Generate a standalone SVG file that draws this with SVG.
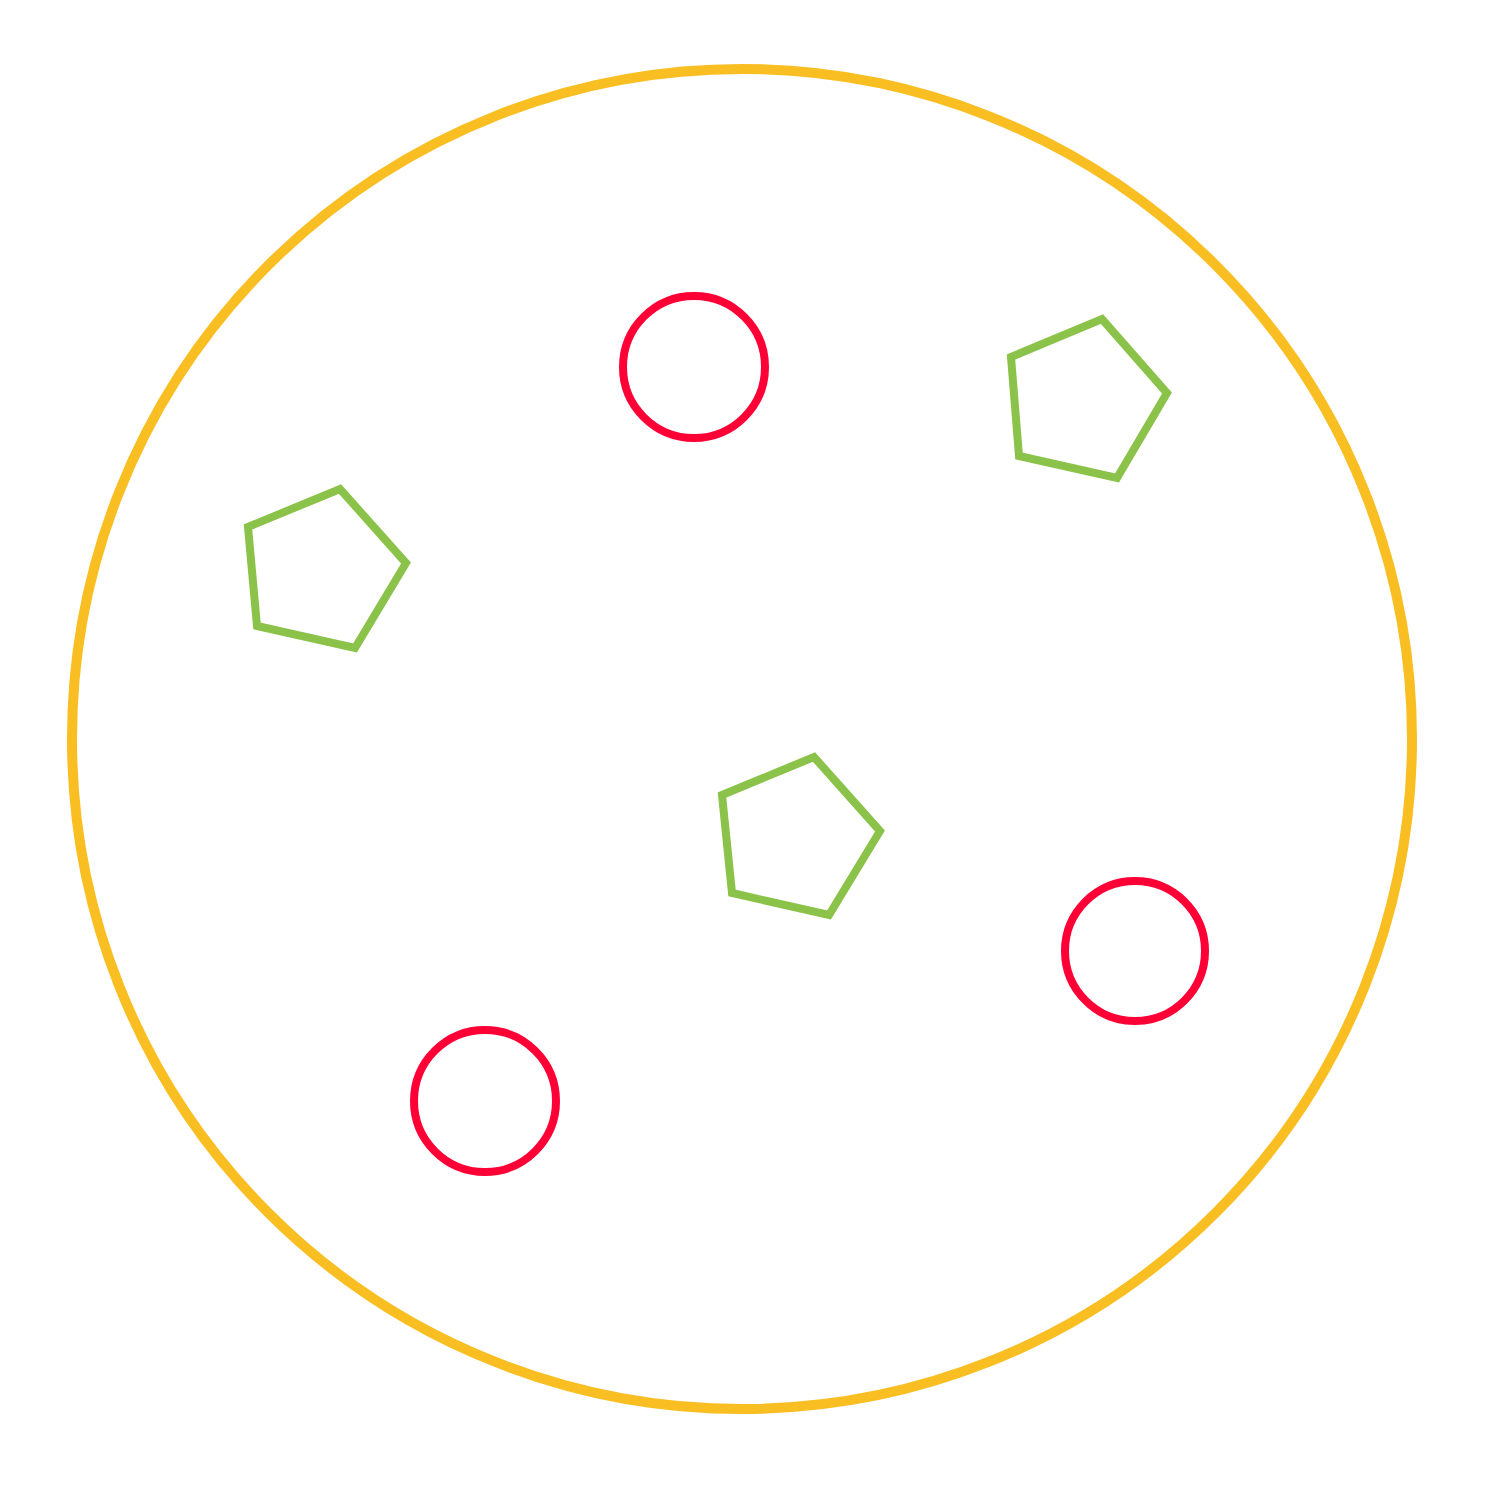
<svg xmlns="http://www.w3.org/2000/svg" width="1500" height="1500" viewBox="0 0 1500 1500">
<style>
.outer{fill:none;stroke:#F9BE22;stroke-width:10}
.dot{fill:none;stroke:#FF0036;stroke-width:8}
.pent{fill:none;stroke:#8BC34A;stroke-width:8}
</style>
<rect width="1500" height="1500" fill="#fff"/>
<g id="outer"><circle class="outer" cx="742" cy="739" r="670"/></g>
<g id="circle1"><circle class="dot" cx="694" cy="367" r="71"/></g>
<g id="circle2"><circle class="dot" cx="1135" cy="951" r="70"/></g>
<g id="circle3"><circle class="dot" cx="485" cy="1101" r="71"/></g>
<g id="pent1"><polygon class="pent" points="1011,357 1102,319 1167,393 1117,478 1019,456"/></g>
<g id="pent2"><polygon class="pent" points="248,527 340,489 406,563 355,648 257,626"/></g>
<g id="pent3"><polygon class="pent" points="722,795 814,757 880,831 829,915 732,893"/></g>
<g id="connectors"></g>
</svg>
